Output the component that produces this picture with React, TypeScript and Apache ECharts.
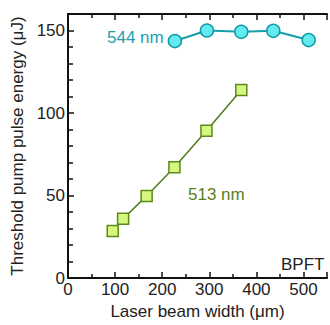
import React, { useEffect, useRef } from "react";
import * as echarts from "echarts";

const widths544 = [227, 295, 368, 436, 511];
const energy544 = [143.6, 150, 149.2, 149.8, 144.2];
const widths513 = [95, 117, 167, 226, 294, 368];
const energy513 = [28.5, 36, 49.8, 67.2, 89.3, 114];
const xTicks = [0, 100, 200, 300, 400, 500];
const yTicks = [0, 50, 100, 150];

const FONT = "Liberation Sans, Arial, sans-serif";
const FS = 17;

export default function App() {
  const ref = useRef<HTMLDivElement>(null);
  useEffect(() => {
    if (!ref.current) return;
    const chart = echarts.init(ref.current, null, { renderer: "svg" });
    const axisLine = { show: true, lineStyle: { color: "#111", width: 2 } };
    const tick = { show: true, inside: true, length: 6, lineStyle: { color: "#111", width: 1.5 } };
    chart.setOption({
      animation: false,
      textStyle: { fontFamily: FONT },
      grid: { left: 68, top: 14, right: -11, bottom: 41 },
      xAxis: [
        {
          type: "value",
          min: 0,
          max: 550,
          interval: 100,
          position: "bottom",
          axisLine,
          axisTick: tick,
          minorTick: { show: true, splitNumber: 2, length: 4, lineStyle: { color: "#111", width: 1.5 } },
          splitLine: { show: false },
          axisLabel: {
            fontSize: FS,
            color: "#222",
            fontFamily: FONT,
            margin: 3,
            formatter: (v: number) => (xTicks.includes(v) ? String(v) : ""),
          },
          name: "Laser beam width (\u03bcm)",
          nameLocation: "middle",
          nameGap: 18,
          nameTextStyle: { fontSize: FS, color: "#222", fontFamily: FONT },
        },
        {
          type: "value",
          min: 0,
          max: 550,
          interval: 100,
          position: "top",
          axisLine,
          axisTick: tick,
          minorTick: { show: true, splitNumber: 2, length: 4, lineStyle: { color: "#111", width: 1.5 } },
          splitLine: { show: false },
          axisLabel: { show: false },
        },
      ],
      yAxis: {
        type: "value",
        min: 0,
        max: 160,
        interval: 50,
        axisLine,
        axisTick: tick,
        minorTick: { show: true, splitNumber: 5, length: 5, lineStyle: { color: "#111", width: 1.5 } },
        splitLine: { show: false },
        axisLabel: {
          fontSize: FS,
          color: "#222",
          fontFamily: FONT,
          margin: 3,
          formatter: (v: number) => (yTicks.includes(v) ? String(v) : ""),
        },
        name: "Threshold pump pulse energy (\u03bcJ)",
        nameLocation: "middle",
        nameGap: 37,
        nameTextStyle: { fontSize: FS, color: "#222", fontFamily: FONT },
      },
      series: [
        {
          type: "line",
          data: widths513.map((x, i) => [x, energy513[i]]),
          symbol: "rect",
          symbolSize: 11,
          lineStyle: { color: "#4f7a17", width: 1.5 },
          itemStyle: { color: "#d6f77e", borderColor: "#5a8a1c", borderWidth: 1.5 },
          z: 3,
        },
        {
          type: "line",
          data: widths544.map((x, i) => [x, energy544[i]]),
          symbol: "circle",
          symbolSize: 13,
          lineStyle: { color: "#14a0aa", width: 2 },
          itemStyle: { color: "#62eaf0", borderColor: "#149aa6", borderWidth: 1.5 },
          z: 3,
        },
      ],
      graphic: [
        {
          type: "text",
          left: 107,
          top: 29,
          style: { text: "544 nm", fontSize: FS, fill: "#1aa2b0", fontFamily: FONT },
        },
        {
          type: "text",
          left: 188,
          top: 186,
          style: { text: "513 nm", fontSize: FS, fill: "#5b801c", fontFamily: FONT },
        },
        {
          type: "text",
          left: 281,
          top: 256,
          style: { text: "BPFT", fontSize: FS, fill: "#222", fontFamily: FONT },
        },
      ],
    });
    return () => chart.dispose();
  }, []);
  return <div ref={ref} style={{ width: 330, height: 325, position: "absolute", left: 0, top: 0, overflow: "hidden" }} />;
}
